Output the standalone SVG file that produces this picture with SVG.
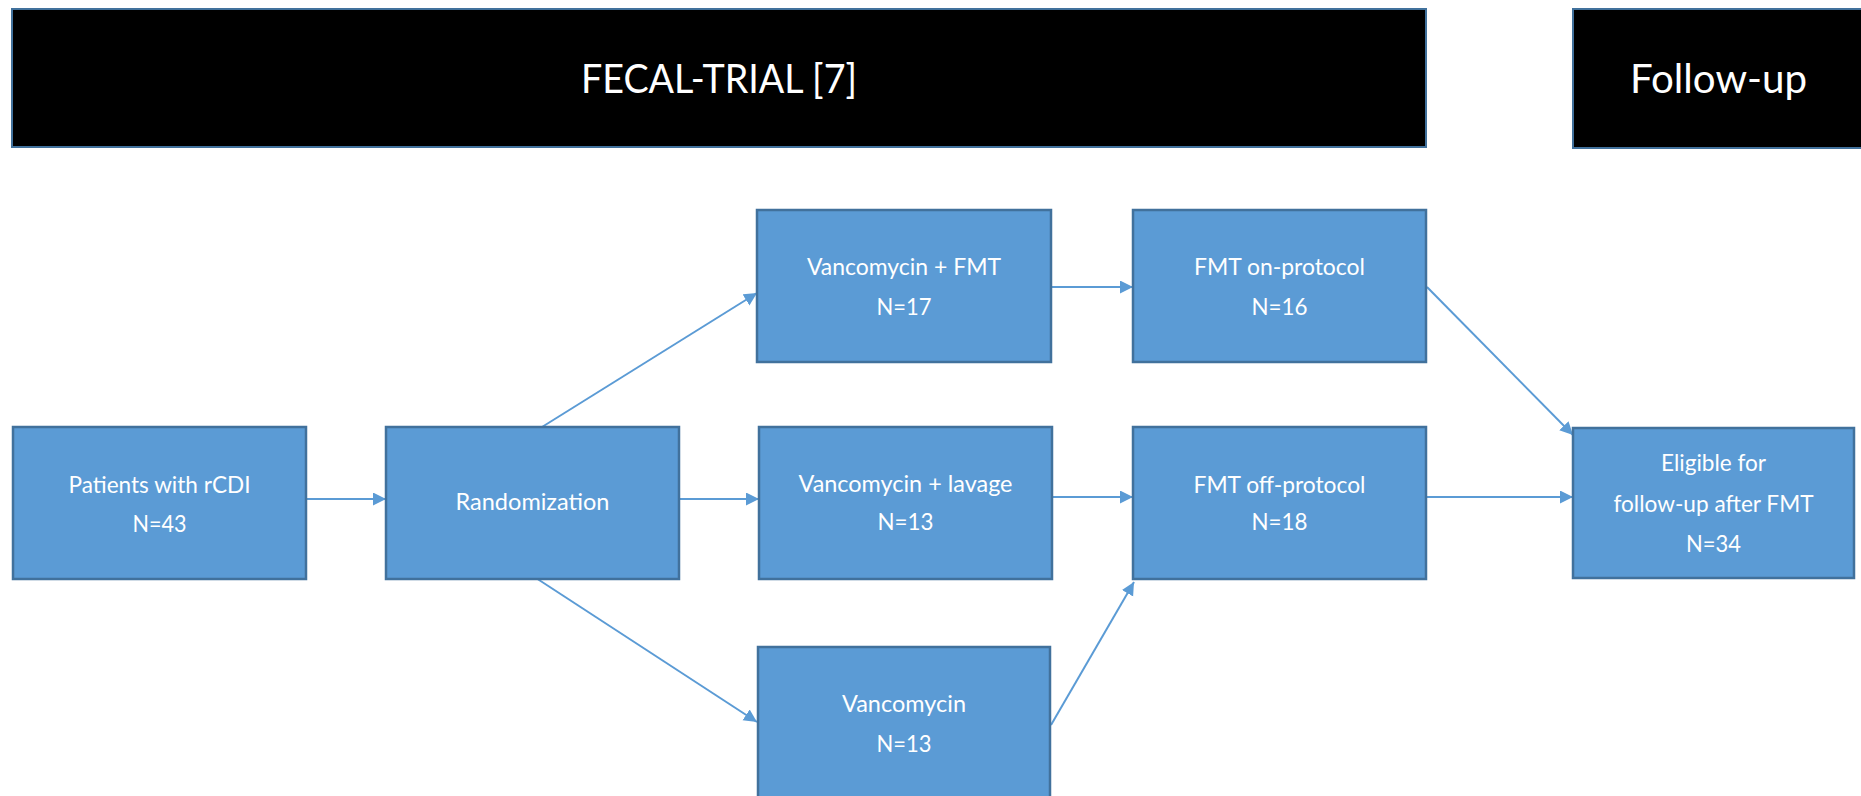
<svg xmlns="http://www.w3.org/2000/svg" width="1861" height="796" viewBox="0 0 1861 796">
<style>
.hdr{fill:#000;stroke:#41719c;stroke-width:2}
.htxt{fill:#fff;font-family:Lato,"Open Sans","Liberation Sans",sans-serif;font-size:40px;text-anchor:middle}
.box{fill:#5b9bd5;stroke:#41719c;stroke-width:2.5}
.t{fill:#fff;font-family:Lato,"Liberation Sans",sans-serif;font-size:23px;text-anchor:middle}
.c{fill:none;stroke:#5b9bd5;stroke-width:2;marker-end:url(#ah)}
</style>
<defs>
<marker id="ah" markerUnits="userSpaceOnUse" markerWidth="14" markerHeight="14" refX="13" refY="6.5" orient="auto">
<path d="M0,0 L13,6.5 L0,13 z" fill="#5b9bd5"/>
</marker>
</defs>
<rect width="1861" height="796" fill="#fff"/>
<g id="header-fecal">
<rect class="hdr" x="12" y="9" width="1414" height="138"/>
<text class="htxt" x="719" y="93" textLength="276" lengthAdjust="spacingAndGlyphs">FECAL-TRIAL [7]</text>
</g>
<g id="header-followup">
<rect class="hdr" x="1573" y="9" width="300" height="139"/>
<text class="htxt" x="1718.5" y="93" textLength="177" lengthAdjust="spacingAndGlyphs">Follow-up</text>
</g>
<g id="connectors">
<line class="c" x1="306" y1="499" x2="386" y2="499"/>
<line class="c" x1="542" y1="427" x2="757" y2="293"/>
<line class="c" x1="679" y1="499" x2="759" y2="499"/>
<line class="c" x1="536" y1="578" x2="757" y2="722"/>
<line class="c" x1="1051" y1="287" x2="1133" y2="287"/>
<line class="c" x1="1052" y1="497" x2="1133" y2="497"/>
<line class="c" x1="1051" y1="725" x2="1134" y2="582"/>
<line class="c" x1="1427" y1="287" x2="1573" y2="435"/>
<line class="c" x1="1426" y1="497" x2="1573" y2="497"/>
</g>
<g id="patients">
<rect class="box" x="13" y="427" width="293" height="152"/>
<text class="t" x="159.5" y="493" textLength="182" lengthAdjust="spacingAndGlyphs">Patients with rCDI</text>
<text class="t" x="159.5" y="532" textLength="54" lengthAdjust="spacingAndGlyphs">N=43</text>
</g>
<g id="randomization">
<rect class="box" x="386" y="427" width="293" height="152"/>
<text class="t" x="532.5" y="510" textLength="154" lengthAdjust="spacingAndGlyphs">Randomization</text>
</g>
<g id="vanc-fmt">
<rect class="box" x="757" y="210" width="294" height="152"/>
<text class="t" x="904" y="275" textLength="194" lengthAdjust="spacingAndGlyphs">Vancomycin + FMT</text>
<text class="t" x="904" y="315" textLength="55" lengthAdjust="spacingAndGlyphs">N=17</text>
</g>
<g id="fmt-on">
<rect class="box" x="1133" y="210" width="293" height="152"/>
<text class="t" x="1279.5" y="275" textLength="171" lengthAdjust="spacingAndGlyphs">FMT on-protocol</text>
<text class="t" x="1279.5" y="315" textLength="56" lengthAdjust="spacingAndGlyphs">N=16</text>
</g>
<g id="vanc-lavage">
<rect class="box" x="759" y="427" width="293" height="152"/>
<text class="t" x="905.5" y="492" textLength="214" lengthAdjust="spacingAndGlyphs">Vancomycin + lavage</text>
<text class="t" x="905.5" y="530" textLength="56" lengthAdjust="spacingAndGlyphs">N=13</text>
</g>
<g id="fmt-off">
<rect class="box" x="1133" y="427" width="293" height="152"/>
<text class="t" x="1279.5" y="493" textLength="172" lengthAdjust="spacingAndGlyphs">FMT off-protocol</text>
<text class="t" x="1279.5" y="530" textLength="56" lengthAdjust="spacingAndGlyphs">N=18</text>
</g>
<g id="vancomycin">
<rect class="box" x="758" y="647" width="292" height="160"/>
<text class="t" x="904" y="712" textLength="124" lengthAdjust="spacingAndGlyphs">Vancomycin</text>
<text class="t" x="904" y="752" textLength="55" lengthAdjust="spacingAndGlyphs">N=13</text>
</g>
<g id="eligible">
<rect class="box" x="1573" y="428" width="281" height="150"/>
<text class="t" x="1713.5" y="471" textLength="105" lengthAdjust="spacingAndGlyphs">Eligible for</text>
<text class="t" x="1713.5" y="512" textLength="200" lengthAdjust="spacingAndGlyphs">follow-up after FMT</text>
<text class="t" x="1713.5" y="552" textLength="55" lengthAdjust="spacingAndGlyphs">N=34</text>
</g>
</svg>
